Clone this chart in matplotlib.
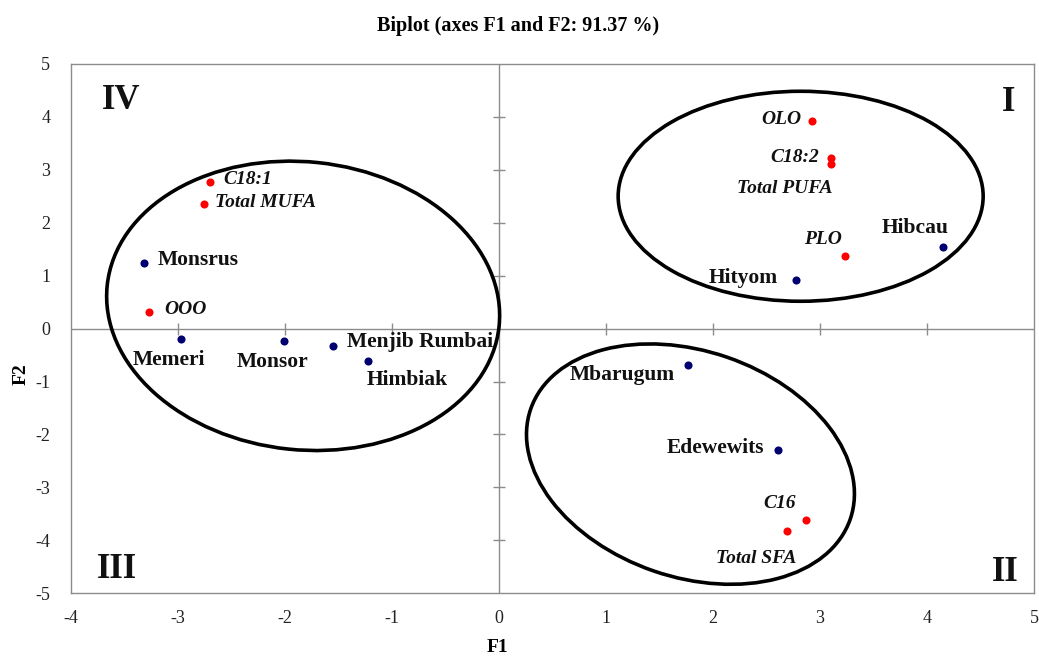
import matplotlib
matplotlib.use('Agg')
import matplotlib.pyplot as plt
import matplotlib.transforms as mtransforms
from matplotlib.patches import Ellipse

plt.rcParams['axes.unicode_minus'] = False

# observations (blue) and variables (red), coordinates on F1/F2
obs_names = ['Hibcau', 'Hityom', 'Mbarugum', 'Edewewits', 'Monsrus',
             'Memeri', 'Monsor', 'Menjib Rumbai', 'Himbiak']
obs_f1 = [4.15, 2.78, 1.77, 2.61, -3.32, -2.97, -2.01, -1.55, -1.22]
obs_f2 = [1.55, 0.92, -0.69, -2.29, 1.23, -0.20, -0.24, -0.33, -0.62]

var_names = ['OLO', 'C18:2', 'Total PUFA', 'PLO', 'C16', 'Total SFA',
             'C18:1', 'Total MUFA', 'OOO']
var_f1 = [2.93, 3.10, 3.10, 3.23, 2.87, 2.69, -2.70, -2.76, -3.27]
var_f2 = [3.92, 3.23, 3.11, 1.37, -3.62, -3.83, 2.77, 2.35, 0.32]

x_ticks = [-4, -3, -2, -1, 0, 1, 2, 3, 4, 5]
y_ticks = [-5, -4, -3, -2, -1, 0, 1, 2, 3, 4, 5]
quadrants = ['I', 'II', 'III', 'IV']

# label placement: (dx px, dy px, ha)
obs_off = {
    'Hibcau': (6, 19, 'right'), 'Hityom': (-19, 2, 'right'),
    'Mbarugum': (-14, -10, 'right'), 'Edewewits': (-14, 2, 'right'),
    'Monsrus': (14, 3, 'left'), 'Memeri': (-12, -21, 'center'),
    'Monsor': (-11, -21, 'center'), 'Menjib Rumbai': (14, 4, 'left'),
    'Himbiak': (-2, -19, 'left'),
}
var_off = {
    'OLO': (-11, 2, 'right'), 'C18:2': (-12, 0, 'right'),
    'Total PUFA': (2, -25, 'right'), 'PLO': (-3, 17, 'right'),
    'C16': (-10, 17, 'right'), 'Total SFA': (10, -27, 'right'),
    'C18:1': (13, 2, 'left'), 'Total MUFA': (11, 2, 'left'),
    'OOO': (15, 2, 'left'),
}

SERIF = 'Liberation Serif'
GRAY = '#8c8c8c'

fig = plt.figure(figsize=(10.39, 6.57), dpi=100)
ax = fig.add_axes([0.0683, 0.097, 0.9268, 0.8057])
ax.set_xlim(-4, 5)
ax.set_ylim(-5, 5)
ax.set_xticks(x_ticks)
ax.set_yticks(y_ticks)
ax.tick_params(length=0, labelsize=13, colors='#222222')
ax.tick_params(axis='x', pad=12)
ax.tick_params(axis='y', pad=15)
for lab in ax.get_xticklabels() + ax.get_yticklabels():
    lab.set_fontfamily(SERIF)
for sp in ax.spines.values():
    sp.set_color(GRAY)
    sp.set_linewidth(1.0)

# axes through the origin with crossing tick marks
ax.axhline(0, color=GRAY, lw=1.0, zorder=1)
ax.axvline(0, color=GRAY, lw=1.0, zorder=1)
xt = [t for t in x_ticks if t not in (0, -4, 5)]
yt = [t for t in y_ticks if t not in (0, -5, 5)]
ax.plot(xt, [0] * len(xt), ls='none', marker='|', ms=9, mew=1.0, color=GRAY, zorder=1)
ax.plot([0] * len(yt), yt, ls='none', marker='_', ms=9, mew=1.0, color=GRAY, zorder=1)

# grouping ellipses (center in data, size in pixels)
def add_ellipse(cx, cy, w_px, h_px, angle):
    tr = fig.dpi_scale_trans + mtransforms.ScaledTranslation(cx, cy, ax.transData)
    e = Ellipse((0, 0), w_px / 100, h_px / 100, angle=angle, transform=tr,
                fill=False, ec='black', lw=2.6, zorder=2)
    ax.add_patch(e)

add_ellipse(-1.83, 0.43, 394, 288, -6)
add_ellipse(2.82, 2.50, 365, 210, 0)
add_ellipse(1.79, -2.56, 338, 226, -19)

ax.scatter(obs_f1, obs_f2, s=34, color='#000070', zorder=3, linewidths=0)
ax.scatter(var_f1, var_f2, s=34, color='#ff0000', zorder=3, linewidths=0)

for name, x, y in zip(obs_names, obs_f1, obs_f2):
    dx, dy, ha = obs_off[name]
    ax.annotate(name, (x, y), xytext=(dx, dy), textcoords='offset pixels',
                ha=ha, va='center', fontsize=15.5, fontweight='bold',
                family=SERIF, color='#111111', zorder=4)

for name, x, y in zip(var_names, var_f1, var_f2):
    dx, dy, ha = var_off[name]
    ax.annotate(name, (x, y), xytext=(dx, dy), textcoords='offset pixels',
                ha=ha, va='center', fontsize=14, fontweight='bold',
                style='italic', family=SERIF, color='#111111', zorder=4)

# quadrant numbers
quad_pos = {'I': (4.83, 4.28, 'right'), 'II': (4.86, -4.61, 'right'),
            'III': (-3.76, -4.56, 'left'), 'IV': (-3.71, 4.30, 'left')}
for q in quadrants:
    x, y, ha = quad_pos[q]
    ax.text(x, y, q, ha=ha, va='center', fontsize=25, fontweight='bold',
            family=SERIF, color='#111111')

fig.text(0.4985, 0.960, 'Biplot (axes F1 and F2: 91.37 %)', ha='center',
         va='center', fontsize=14.5, fontweight='bold', family=SERIF)
fig.text(0.479, 0.015, 'F1', ha='center', va='center', fontsize=14,
         fontweight='bold', family=SERIF)
fig.text(0.02, 0.43, 'F2', ha='center', va='center', rotation=90,
         fontsize=14, fontweight='bold', family=SERIF)

fig.savefig('out.png', dpi=100)
